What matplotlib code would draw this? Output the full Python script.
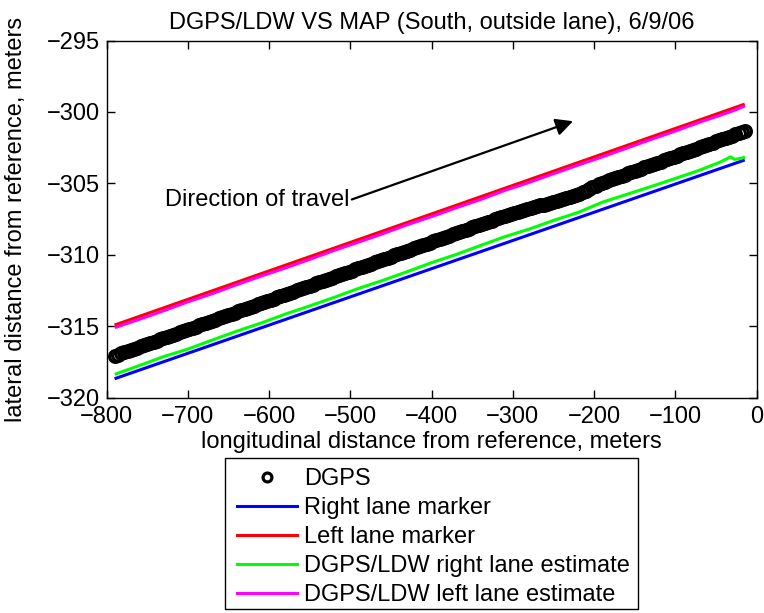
import matplotlib
matplotlib.use("Agg")
import matplotlib.pyplot as plt
from matplotlib.patches import Rectangle

# DGPS track (longitudinal / lateral distance from reference, m)
dgps_x = [
    -790, -786, -782, -778, -774, -770, -766, -762, -758, -754,
    -750, -746, -742, -738, -734, -730, -726, -722, -718, -714,
    -710, -706, -702, -698, -694, -690, -686, -682, -678, -674,
    -670, -666, -662, -658, -654, -650, -646, -642, -638, -634,
    -630, -626, -622, -618, -614, -610, -606, -602, -598, -594,
    -590, -586, -582, -578, -574, -570, -566, -562, -558, -554,
    -550, -546, -542, -538, -534, -530, -526, -522, -518, -514,
    -510, -506, -502, -498, -494, -490, -486, -482, -478, -474,
    -470, -466, -462, -458, -454, -450, -446, -442, -438, -434,
    -430, -426, -422, -418, -414, -410, -406, -402, -398, -394,
    -390, -386, -382, -378, -374, -370, -366, -362, -358, -354,
    -350, -346, -342, -338, -334, -330, -326, -322, -318, -314,
    -310, -306, -302, -298, -294, -290, -286, -282, -278, -274,
    -270, -266, -262, -258, -254, -250, -246, -242, -238, -234,
    -230, -226, -222, -218, -214, -210, -206, -202, -198, -194,
    -190, -186, -182, -178, -174, -170, -166, -162, -158, -154,
    -150, -146, -142, -138, -134, -130, -126, -122, -118, -114,
    -110, -106, -102, -98, -94, -90, -86, -82, -78, -74,
    -70, -66, -62, -58, -54, -50, -46, -42, -38, -34,
    -30, -26, -22, -18, -14,
]
dgps_y = [
    -317.07, -316.99, -316.91, -316.83, -316.74, -316.66, -316.58, -316.50, -316.42, -316.34,
    -316.25, -316.17, -316.09, -316.01, -315.93, -315.85, -315.76, -315.68, -315.60, -315.52,
    -315.44, -315.36, -315.28, -315.19, -315.11, -315.03, -314.95, -314.87, -314.79, -314.70,
    -314.62, -314.54, -314.46, -314.38, -314.30, -314.21, -314.13, -314.05, -313.97, -313.89,
    -313.81, -313.72, -313.64, -313.56, -313.48, -313.40, -313.32, -313.23, -313.15, -313.07,
    -312.99, -312.91, -312.83, -312.75, -312.66, -312.58, -312.50, -312.42, -312.34, -312.26,
    -312.17, -312.09, -312.01, -311.93, -311.85, -311.77, -311.69, -311.60, -311.52, -311.44,
    -311.36, -311.28, -311.20, -311.11, -311.03, -310.95, -310.87, -310.79, -310.71, -310.62,
    -310.54, -310.46, -310.38, -310.30, -310.22, -310.13, -310.05, -309.97, -309.89, -309.81,
    -309.73, -309.65, -309.56, -309.48, -309.40, -309.32, -309.24, -309.16, -309.07, -308.99,
    -308.91, -308.83, -308.75, -308.67, -308.58, -308.50, -308.42, -308.34, -308.26, -308.18,
    -308.09, -308.01, -307.93, -307.85, -307.77, -307.69, -307.61, -307.52, -307.44, -307.37,
    -307.30, -307.24, -307.17, -307.10, -307.03, -306.96, -306.89, -306.83, -306.76, -306.69,
    -306.62, -306.55, -306.49, -306.42, -306.35, -306.28, -306.21, -306.15, -306.08, -306.01,
    -305.94, -305.87, -305.80, -305.74, -305.62, -305.51, -305.40, -305.28, -305.17, -305.05,
    -304.97, -304.89, -304.80, -304.72, -304.64, -304.56, -304.47, -304.39, -304.31, -304.22,
    -304.14, -304.06, -303.98, -303.89, -303.81, -303.73, -303.64, -303.56, -303.48, -303.40,
    -303.31, -303.23, -303.15, -303.06, -302.98, -302.90, -302.82, -302.73, -302.65, -302.57,
    -302.48, -302.40, -302.32, -302.24, -302.15, -302.07, -301.99, -301.90, -301.82, -301.74,
    -301.66, -301.57, -301.49, -301.41, -301.33,
]

# map lane markers
right_x = [-788.3, -16.3]
right_y = [-318.65, -303.40]
left_x = [-788.3, -16.3]
left_y = [-314.89, -299.49]

# DGPS/LDW lane estimates
est_x = [-788, -760, -730, -700, -670, -640, -610, -580, -550, -520,
         -490, -460, -430, -400, -370, -340, -310, -280, -250, -220,
         -190, -160, -130, -100, -70, -45, -32, -27, -22, -16]
est_right_y = [-318.34, -317.77, -317.14, -316.61, -315.98, -315.36, -314.79, -314.16, -313.59, -312.99,
               -312.36, -311.80, -311.19, -310.56, -309.99, -309.36, -308.74, -308.21, -307.60, -307.05,
               -306.33, -305.78, -305.23, -304.66, -304.08, -303.52, -303.15, -303.32, -303.28, -303.20]
est_left_y = [-315.07, -314.53, -313.93, -313.30, -312.73, -312.10, -311.50, -310.93, -310.33, -309.70,
              -309.12, -308.53, -307.90, -307.33, -306.72, -306.14, -305.50, -304.94, -304.33, -303.73,
              -303.15, -302.54, -301.93, -301.34, -300.72, -300.24, -299.98, -299.88, -299.76, -299.62]

x_ticks = [-800, -700, -600, -500, -400, -300, -200, -100, 0]
y_ticks = [-320, -315, -310, -305, -300, -295]

FS = 17

plt.rcParams['font.family'] = ['Liberation Sans', 'DejaVu Sans']
plt.rcParams['font.size'] = FS

fig = plt.figure(figsize=(7.64, 6.13), dpi=100)
ax = fig.add_axes([0.1394, 0.3515, 0.8508, 0.5824])

ax.plot(dgps_x, dgps_y, 'o', color='k', markerfacecolor='none',
        markersize=8.5, markeredgewidth=2.3, label='DGPS')
ax.plot(right_x, right_y, color='b', lw=2.2, label='Right lane marker')
ax.plot(left_x, left_y, color='r', lw=2.2, label='Left lane marker')
ax.plot(est_x, est_right_y, color=(0, 1, 0), lw=2.2,
        label='DGPS/LDW right lane estimate')
ax.plot(est_x, est_left_y, color=(1, 0, 1), lw=2.2,
        label='DGPS/LDW left lane estimate')

ax.annotate('Direction of travel', xy=(-225.8, -300.65), xytext=(-501.5, -306.2),
            ha='right', va='center', fontsize=FS,
            arrowprops=dict(arrowstyle='-|>', color='k', lw=1.6,
                            mutation_scale=26, shrinkA=0, shrinkB=0,
                            relpos=(1.0, 0.5)))

ax.set_xlim(-800, 0)
ax.set_ylim(-320, -295)
ax.set_xticks(x_ticks)
ax.set_yticks(y_ticks)
ax.tick_params(direction='in', length=6, width=1, top=True, right=True,
               labelsize=FS)
ax.tick_params(axis='x', pad=6)
ax.tick_params(axis='y', pad=5)
for sp in ax.spines.values():
    sp.set_linewidth(1)

ax.set_title('DGPS/LDW VS MAP (South, outside lane), 6/9/06', fontsize=FS, pad=8)
ax.set_xlabel('longitudinal distance from reference, meters', fontsize=FS)
ax.set_ylabel('lateral distance from reference, meters', fontsize=FS)
ax.xaxis.set_label_coords(0.5, -0.095)
ax.yaxis.set_label_coords(-0.123, 0.5)

# legend entries without their own frame; the box is drawn separately
leg = fig.legend(loc='upper left', bbox_to_anchor=(237 / 764, 1 - 468 / 613),
                 fontsize=FS, frameon=False, handlelength=2.55,
                 handletextpad=0.3, borderpad=0, labelspacing=0.3,
                 borderaxespad=0, markerscale=0.75)
fig.patches.append(Rectangle((225 / 764, 1 - 609 / 613), 413 / 764, 151 / 613,
                             transform=fig.transFigure, fill=False,
                             edgecolor='k', linewidth=1))

fig.savefig('out.png', dpi=100)
